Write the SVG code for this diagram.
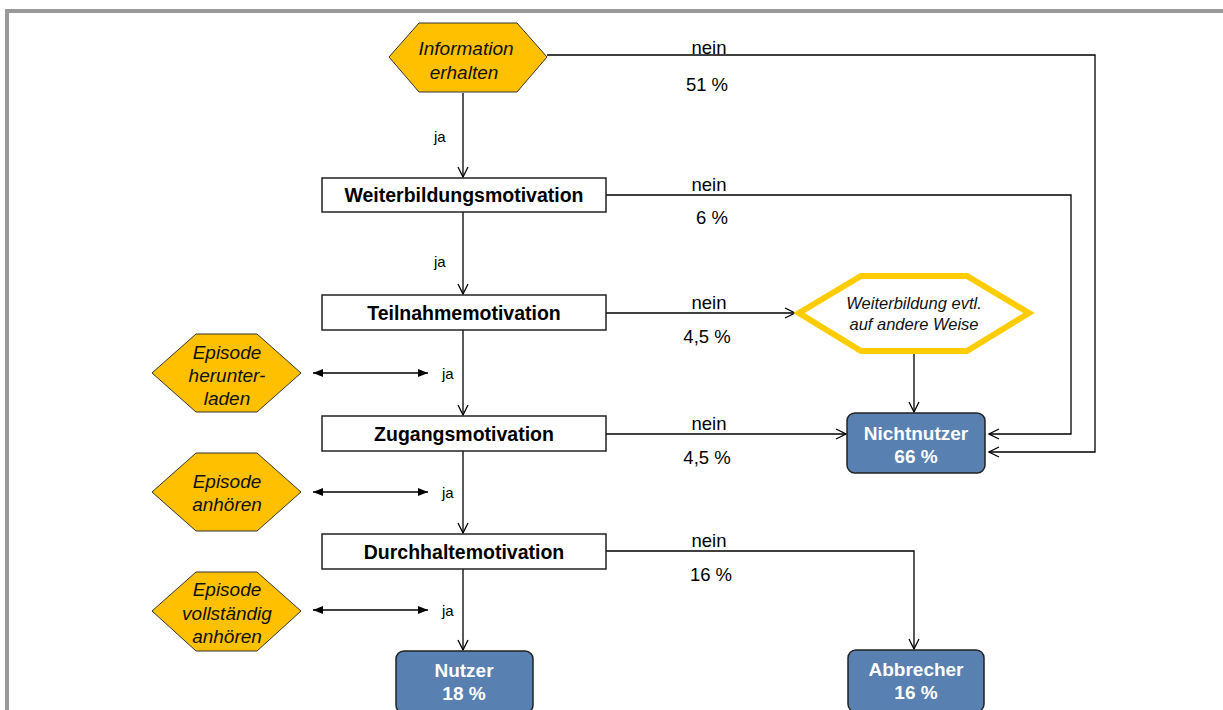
<svg xmlns="http://www.w3.org/2000/svg" width="1223" height="710" viewBox="0 0 1223 710">
<defs>
<marker id="open" viewBox="0 0 12 12" refX="11" refY="6" markerWidth="12" markerHeight="12" markerUnits="userSpaceOnUse" orient="auto">
<path d="M1,1 L11,6 L1,11" fill="none" stroke="#000" stroke-width="1.3"/>
</marker>
<marker id="fill" viewBox="0 0 10 8" refX="10" refY="4" markerWidth="10" markerHeight="8" markerUnits="userSpaceOnUse" orient="auto-start-reverse">
<path d="M0,0 L10,4 L0,8 Z" fill="#000"/>
</marker>
<style>
.conn{fill:none;stroke:#000;stroke-width:1.3}
.arr{marker-end:url(#open)}
.dbl{marker-start:url(#fill);marker-end:url(#fill)}
.box{fill:#fff;stroke:#222;stroke-width:1.5}
.hex{fill:#FFC000;stroke:#333;stroke-width:1}
.res{fill:#5880B0;stroke:#222;stroke-width:1.5}
.bt{font-family:"Liberation Sans",Arial,sans-serif;font-weight:bold;font-size:19.5px;text-anchor:middle;fill:#000}
.it{font-family:"Liberation Sans",Arial,sans-serif;font-style:italic;font-size:19px;text-anchor:middle;fill:#111}
.wt{font-family:"Liberation Sans",Arial,sans-serif;font-weight:bold;font-size:19px;text-anchor:middle;fill:#fff}
.lb{font-family:"Liberation Sans",Arial,sans-serif;font-size:18.5px;text-anchor:middle;fill:#000}
.ja{font-family:"Liberation Sans",Arial,sans-serif;font-size:15px;fill:#000}
</style>
</defs>
<rect width="1223" height="710" fill="#fff"/>
<path d="M7,710 V11 H1223" fill="none" stroke="#999" stroke-width="4"/>

<g id="connectors">
<polyline class="conn" points="547,55 1095,55 1095,452 989,452" marker-end="url(#open)"/>
<line class="conn arr" x1="463" y1="93" x2="463" y2="177"/>
<polyline class="conn" points="606,195 1071,195 1071,434 989,434" marker-end="url(#open)"/>
<line class="conn arr" x1="463" y1="212" x2="463" y2="294"/>
<line class="conn arr" x1="606" y1="313" x2="795" y2="313"/>
<line class="conn arr" x1="914" y1="353" x2="914" y2="412"/>
<line class="conn arr" x1="463" y1="330" x2="463" y2="415"/>
<line class="conn arr" x1="606" y1="434" x2="846" y2="434"/>
<line class="conn arr" x1="463" y1="451" x2="463" y2="533"/>
<polyline class="conn" points="606,551 914,551 914,649" marker-end="url(#open)"/>
<line class="conn arr" x1="463" y1="569" x2="463" y2="650"/>
<line class="conn dbl" x1="313" y1="373" x2="428" y2="373"/>
<line class="conn dbl" x1="313" y1="492" x2="428" y2="492"/>
<line class="conn dbl" x1="313" y1="610" x2="428" y2="610"/>
<text class="lb" x="709" y="54">nein</text>
<text class="lb" x="707" y="91">51 %</text>
<text class="lb" x="709" y="191">nein</text>
<text class="lb" x="712" y="224">6 %</text>
<text class="lb" x="709" y="309">nein</text>
<text class="lb" x="707" y="343">4,5 %</text>
<text class="lb" x="709" y="430">nein</text>
<text class="lb" x="707" y="464">4,5 %</text>
<text class="lb" x="709" y="547">nein</text>
<text class="lb" x="711" y="581">16 %</text>
<text class="ja" x="434" y="142">ja</text>
<text class="ja" x="434" y="267">ja</text>
<text class="ja" x="442" y="379">ja</text>
<text class="ja" x="442" y="498">ja</text>
<text class="ja" x="442" y="616">ja</text>
</g>

<g id="information">
<polygon class="hex" points="389,57 419,23 517,23 547,57 517,92 419,92"/>
<text class="it" x="466" y="55">Information</text>
<text class="it" x="464" y="79">erhalten</text>
</g>

<g id="weiterbildungsmotivation">
<rect class="box" x="322" y="178" width="284" height="34"/>
<text class="bt" x="464" y="202">Weiterbildungsmotivation</text>
</g>

<g id="teilnahmemotivation">
<rect class="box" x="322" y="295" width="284" height="35"/>
<text class="bt" x="464" y="320">Teilnahmemotivation</text>
</g>

<g id="zugangsmotivation">
<rect class="box" x="322" y="416" width="284" height="35"/>
<text class="bt" x="464" y="441">Zugangsmotivation</text>
</g>

<g id="durchhaltemotivation">
<rect class="box" x="322" y="534" width="284" height="35"/>
<text class="bt" x="464" y="559">Durchhaltemotivation</text>
</g>

<g id="weiterbildung-anders">
<polygon points="799,313 861,276 967,276 1029,313 967,351 861,351" fill="#fff" stroke="#FFCC00" stroke-width="6"/>
<text class="it" x="914" y="309" style="font-size:16.5px">Weiterbildung evtl.</text>
<text class="it" x="914" y="330" style="font-size:16.5px">auf andere Weise</text>
</g>

<g id="nichtnutzer">
<rect class="res" x="847" y="413" width="138" height="60" rx="8"/>
<text class="wt" x="916" y="440">Nichtnutzer</text>
<text class="wt" x="916" y="463">66 %</text>
</g>

<g id="episode-herunterladen">
<polygon class="hex" points="152,373 196,334 257,334 301,373 257,412 196,412"/>
<text class="it" x="227" y="359">Episode</text>
<text class="it" x="227" y="382">herunter-</text>
<text class="it" x="227" y="405">laden</text>
</g>

<g id="episode-anhoeren">
<polygon class="hex" points="152,492 196,453 257,453 301,492 257,531 196,531"/>
<text class="it" x="227" y="488">Episode</text>
<text class="it" x="227" y="511">anhören</text>
</g>

<g id="episode-vollstaendig">
<polygon class="hex" points="152,611 196,572 257,572 301,611 257,651 196,651"/>
<text class="it" x="227" y="596">Episode</text>
<text class="it" x="227" y="620">vollständig</text>
<text class="it" x="227" y="643">anhören</text>
</g>

<g id="nutzer">
<rect class="res" x="396" y="651" width="137" height="62" rx="8"/>
<text class="wt" x="464" y="677">Nutzer</text>
<text class="wt" x="464" y="700">18 %</text>
</g>

<g id="abbrecher">
<rect class="res" x="848" y="650" width="136" height="62" rx="8"/>
<text class="wt" x="916" y="676">Abbrecher</text>
<text class="wt" x="916" y="699">16 %</text>
</g>
</svg>
